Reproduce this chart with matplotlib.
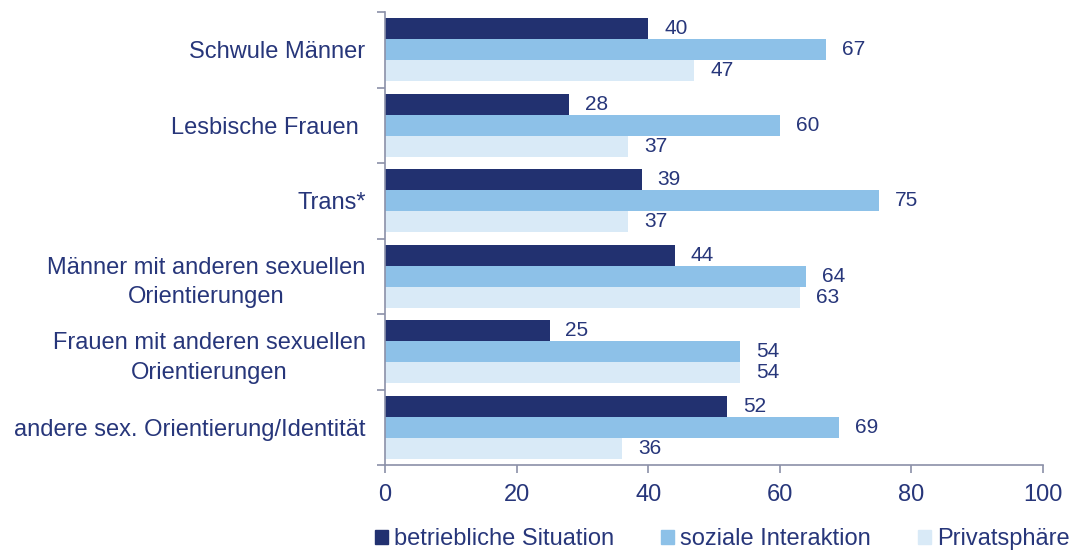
import numpy as np
import matplotlib
matplotlib.use("Agg")
import matplotlib.pyplot as plt
from matplotlib.patches import Patch

categories = [
    "Schwule Männer",
    "Lesbische Frauen ",
    "Trans*",
    "Männer mit anderen sexuellen\nOrientierungen",
    "Frauen mit anderen sexuellen\nOrientierungen",
    "andere sex. Orientierung/Identität",
]
series_names = ["betriebliche Situation", "soziale Interaktion", "Privatsphäre"]
betrieblich = [40, 28, 39, 44, 25, 52]
sozial = [67, 60, 75, 64, 54, 69]
privat = [47, 37, 37, 63, 54, 36]

colors = ["#223170", "#8DC1E8", "#D9EAF7"]
text_color = "#27367A"
spine_color = "#8B90A8"

plt.rcParams["font.family"] = ["Liberation Sans", "DejaVu Sans"]

fig = plt.figure(figsize=(10.76, 5.5), dpi=100)
ax = fig.add_axes([385 / 1076, 1 - 465 / 550, 658 / 1076, 453 / 550])

n = len(categories)
y = np.arange(n)
h = 0.278
for i, vals in enumerate([betrieblich, sozial, privat]):
    pos = y + (i - 1) * h
    ax.barh(pos, vals, height=h, color=colors[i], label=series_names[i])
    for p, v in zip(pos, vals):
        ax.annotate(str(v), (v, p), xytext=(11.5, 0), textcoords="offset points",
                    va="center", ha="left", fontsize=15, color=text_color)

ax.set_xlim(0, 100)
ax.set_ylim(n - 0.5, -0.5)
ax.set_xticks(range(0, 101, 20))
ax.set_yticks(y)
ax.set_yticklabels(categories, fontsize=17, color=text_color,
                   multialignment="center", linespacing=1.45)
ax.set_yticks(np.arange(-0.5, n, 1), minor=True)
ax.tick_params(axis="y", which="major", length=0, pad=14)
ax.tick_params(axis="y", which="minor", length=6, color=spine_color, width=1.2)
ax.tick_params(axis="x", length=6, color=spine_color, width=1.2, labelsize=17,
               labelcolor=text_color, pad=8)
for s in ["top", "right"]:
    ax.spines[s].set_visible(False)
for s in ["left", "bottom"]:
    ax.spines[s].set_color(spine_color)
    ax.spines[s].set_linewidth(1.2)

handles = [Patch(color=c) for c in colors]
fig.legend(handles, series_names, loc="center left", bbox_to_anchor=(375 / 1076, 1 - 539 / 550),
           ncol=3, frameon=False, fontsize=17, labelcolor=text_color,
           handlelength=0.55, handleheight=0.55, handletextpad=0.25, columnspacing=2.0,
           borderpad=0, borderaxespad=0)

fig.savefig("out.png", dpi=100)
